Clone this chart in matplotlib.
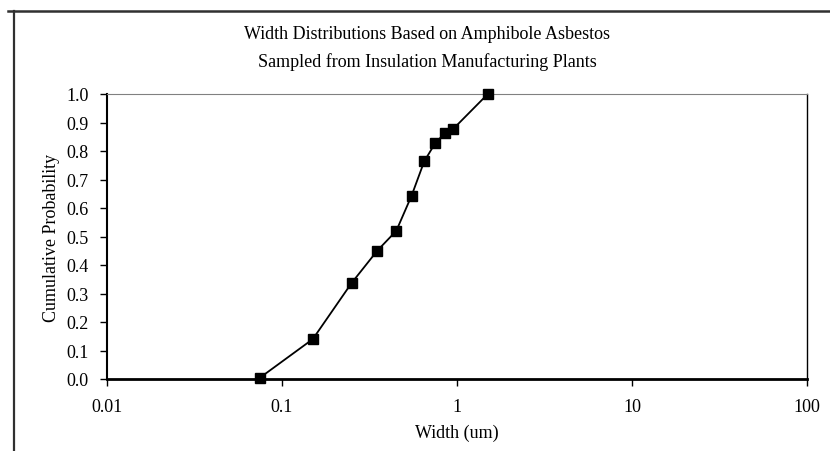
import matplotlib
matplotlib.use("Agg")
import matplotlib.pyplot as plt
from matplotlib.lines import Line2D

width_um = [0.075, 0.15, 0.25, 0.35, 0.45, 0.55, 0.65, 0.75, 0.85, 0.95, 1.5]
cum_prob = [0.005, 0.14, 0.337, 0.45, 0.52, 0.643, 0.764, 0.827, 0.862, 0.877, 1.0]
x_ticks = [0.01, 0.1, 1, 10, 100]
x_tick_labels = ["0.01", "0.1", "1", "10", "100"]
y_ticks = [0.0, 0.1, 0.2, 0.3, 0.4, 0.5, 0.6, 0.7, 0.8, 0.9, 1.0]
title = "Width Distributions Based on Amphibole Asbestos\nSampled from Insulation Manufacturing Plants"

plt.rcParams['font.family'] = ['Liberation Serif', 'DejaVu Serif']

W, H = 830, 452
fig = plt.figure(figsize=(W / 100, H / 100), dpi=100)
ax = fig.add_axes([107 / W, 1 - 380 / H, 700 / W, 285 / H])

ax.plot(width_um, cum_prob, color='black', lw=1.3, marker='s', ms=7.5,
        mfc='black', mec='black', clip_on=False, zorder=3)
ax.set_xscale('log')
ax.set_xlim(0.01, 100)
ax.set_ylim(0, 1)
ax.set_xticks(x_ticks)
ax.set_xticklabels(x_tick_labels)
ax.xaxis.set_minor_locator(matplotlib.ticker.NullLocator())
ax.set_yticks(y_ticks)
ax.set_yticklabels([f"{v:.1f}" for v in y_ticks])
ax.tick_params(axis='both', labelsize=13, length=5, width=1, color='black',
               direction='out', pad=8)
ax.tick_params(axis='x', pad=9)
ax.spines['top'].set_color('#808080')
ax.spines['top'].set_linewidth(0.8)
ax.spines['right'].set_color('black')
ax.spines['right'].set_linewidth(1.0)
ax.spines['left'].set_linewidth(1.5)
ax.spines['bottom'].set_linewidth(2.0)

ax.set_xlabel("Width (um)", fontsize=13, labelpad=6)
ax.set_ylabel("Cumulative Probability", fontsize=13, labelpad=5)

fig.text(427 / W, 1 - 48.5 / H, title, ha='center', va='center', fontsize=13,
         linespacing=1.75)

# outer chart frame
fig.add_artist(Line2D([8 / W, 1], [1 - 11.5 / H] * 2, transform=fig.transFigure,
                      color='#303030', lw=1.8))
fig.add_artist(Line2D([13.5 / W] * 2, [0, 1 - 11.5 / H], transform=fig.transFigure,
                      color='#303030', lw=1.6))

fig.savefig("out.png", dpi=100)
